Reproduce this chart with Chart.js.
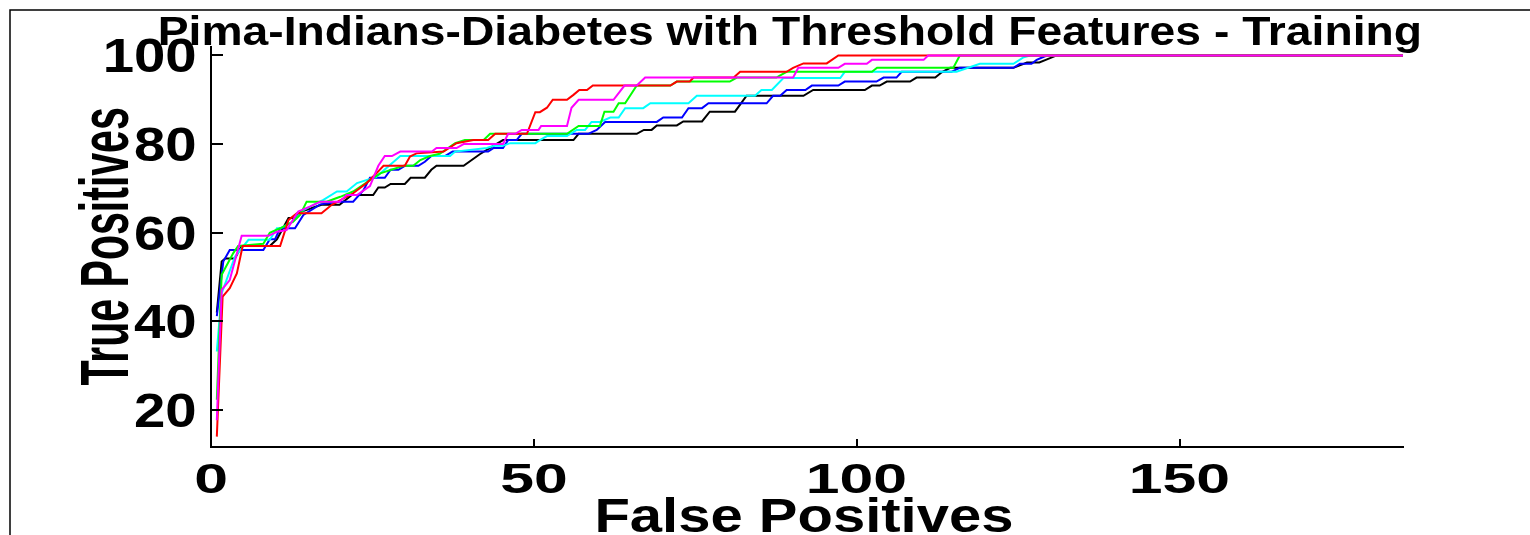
<!DOCTYPE html>
<html>
<head>
<meta charset="utf-8">
<title>Pima-Indians-Diabetes ROC</title>
<script src="https://cdn.jsdelivr.net/npm/chart.js@4/dist/chart.umd.min.js"></script>
<style>
  html, body { margin: 0; padding: 0; background: #fff; overflow: hidden; }
  #wrap { width: 1530px; height: 535px; position: relative; }
</style>
</head>
<body>
<div id="wrap"><canvas id="roc" width="1530" height="535"></canvas></div>
<script>
// ROC curves: false positives (x) vs true positives (y), one curve per run
const titleText = 'Pima-Indians-Diabetes with Threshold Features - Training';
const xTitle = 'False Positives';
const yTitle = 'True Positives';
const xTicks = [0, 50, 100, 150];
const yTicks = [20, 40, 60, 80, 100];

const redFP = [0.9,1.8,2.9,4.0,4.9,10.7,12.0,13.3,17.1,18.7,22.0,24.1,25.6,26.7,30.0,30.8,31.8,36.0,38.0,40.6,42.9,44.0,48.9,50.2,50.9,52.0,52.9,55.1,56.1,57.0,58.2,59.1,71.1,72.1,74.1,74.7,80.9,81.9,89.1,90.1,91.7,95.3,97.1,184.5];
const redTP = [14.0,45.6,47.5,50.8,57.0,57.0,62.9,64.4,64.4,66.3,68.9,71.2,73.4,75.1,75.1,77.2,77.9,78.3,80.2,80.9,80.9,82.3,82.3,87.2,87.2,88.2,90.0,90.0,91.1,92.2,92.2,93.2,93.2,94.1,94.1,95.0,95.0,96.3,96.3,97.2,98.2,98.2,100,100];

const greenFP = [0.9,1.65,3.45,4.2,8.1,9.1,10.7,12.7,13.8,14.8,17.9,20.0,22.0,25.1,26.2,29.8,31.3,32.4,33.9,35.4,37.8,39.3,42.2,43.2,55.1,56.9,60.2,60.9,62.3,63.1,64.1,65.9,71.1,72.1,74.1,80.3,81.4,87.5,89.1,102.3,103.1,114.9,115.9,184.5];
const greenTP = [22.3,50.5,55.4,57.0,57.5,60.0,61.0,62.5,64.0,67.0,67.0,68.1,69.3,72.3,73.4,75.1,75.1,76.4,77.3,77.8,80.2,80.9,80.9,82.3,82.3,84.1,84.1,87.3,87.3,89.2,89.2,93.2,93.2,94.1,94.1,94.1,95.0,95.0,96.3,96.3,97.2,97.2,100,100];

const blueFP = [0.9,1.9,2.9,8.1,9.1,9.9,10.7,13.0,14.3,16.9,19.9,22.0,23.6,24.6,26.9,27.8,29.0,30.0,32.1,33.1,34.1,36.2,37.4,42.9,43.7,45.2,46.0,47.3,48.1,58.4,59.7,61.0,69.0,70.0,72.9,73.9,76.0,77.0,86.0,87.0,88.1,89.1,92.0,93.0,97.1,98.1,103.0,104.1,106.1,106.9,114.6,115.9,124.2,125.2,127.0,127.8,128.9,129.5,184.5];
const blueTP = [41.2,53.5,56.1,56.1,58.5,58.5,61.0,61.0,64.0,66.4,67.0,67.0,69.6,72.4,72.4,74.2,74.2,75.1,75.1,76.0,77.3,77.3,78.3,78.3,79.1,79.1,80.9,80.9,82.3,82.3,83.2,85.0,85.0,86.0,86.0,88.1,88.1,89.2,89.2,90.9,90.9,92.2,92.2,93.2,93.2,94.1,94.1,95.0,95.0,96.3,96.3,97.2,97.2,98.1,98.1,99.0,99.7,100,100];

const cyanFP = [0.9,1.65,3.7,5.8,9.1,10.2,10.7,12.7,14.3,17.4,19.5,21.0,22.6,25.6,29.3,37.0,37.8,42.7,43.8,45.2,46.3,50.2,50.9,52.0,55.1,56.6,57.9,58.9,60.2,61.8,63.1,64.1,66.9,68.0,73.9,75.2,84.2,85.2,86.8,88.6,97.4,98.1,115.4,119.0,124.2,125.8,126.8,184.5];
const cyanTP = [33.2,46.3,54.6,58.4,58.4,61.0,61.0,62.5,65.1,67.4,69.3,69.3,71.2,72.6,77.3,77.3,78.3,79.1,79.6,79.6,80.2,80.2,80.9,81.8,81.8,83.2,83.2,85.0,85.0,86.0,86.0,88.1,88.1,89.2,89.2,90.9,90.9,92.2,92.2,94.9,94.9,96.3,96.3,98.1,98.1,99.6,100,100];

const magentaFP = [0.9,1.65,2.9,4.75,8.9,10.2,11.7,13.5,15.3,16.9,19.9,21.0,22.6,24.6,25.9,26.9,28.0,29.3,34.2,34.9,38.0,39.1,45.2,46.0,47.1,48.1,50.7,51.1,55.1,55.8,56.9,62.3,64.0,65.9,67.2,90.1,90.9,97.1,98.1,101.5,102.3,110.3,111.0,184.5];
const magentaTP = [17.7,47.1,49.3,59.3,59.3,60.2,60.6,64.8,65.9,67.0,67.0,68.5,68.5,70.5,75.1,77.3,77.3,78.3,78.3,79.1,79.1,80.0,80.0,82.3,82.3,83.2,83.2,84.1,84.1,88.2,90.0,90.0,93.2,93.2,95.0,95.0,97.2,97.2,98.1,98.1,99.0,99.0,100,100];

const blackFP = [0.9,1.65,2.2,3.7,4.75,9.1,10.2,12.0,13.0,14.0,17.1,19.9,21.8,25.1,25.9,26.9,27.8,30.0,30.9,33.1,34.1,34.9,39.1,41.6,43.7,45.2,56.1,56.9,65.9,67.0,68.2,69.0,72.1,73.1,76.0,77.2,81.1,82.9,91.7,93.2,101.2,102.3,103.5,104.6,108.2,109.2,112.1,113.1,114.4,124.2,126.3,128.2,129.4,130.9,184.5];
const blackTP = [42.0,53.5,54.2,54.2,57.0,57.0,58.5,63.3,63.3,64.8,66.3,66.3,68.5,68.5,70.2,70.2,71.0,71.0,72.4,72.4,74.2,75.1,75.1,77.7,79.6,80.9,80.9,82.3,82.3,83.2,83.2,84.2,84.2,85.1,85.1,87.3,87.3,90.9,90.9,92.2,92.2,93.2,93.2,94.1,94.1,95.0,95.0,96.2,97.2,97.2,98.4,98.4,99.1,100,100];

const toPoints = (xs, ys) => xs.map((v, i) => ({ x: v, y: ys[i] }));

// first dataset is painted last (on top)
const curves = [
  { fp: magentaFP, tp: magentaTP, color: '#ff00ff' },
  { fp: redFP,     tp: redTP,     color: '#ff0000' },
  { fp: greenFP,   tp: greenTP,   color: '#00ff00' },
  { fp: cyanFP,    tp: cyanTP,    color: '#00ffff' },
  { fp: blueFP,    tp: blueTP,    color: '#0000ff' },
  { fp: blackFP,   tp: blackTP,   color: '#000000' }
];

const FAMILY = '"Liberation Sans", Arial, Helvetica, sans-serif';

// bold text sized by cap height and stretched horizontally to a given ink width
function fontFor(capH) {
  return 'bold ' + (capH / 0.716).toFixed(1) + 'px ' + FAMILY;
}
function inkBox(ctx, text) {
  const m = ctx.measureText(text);
  return { l: m.actualBoundingBoxLeft, r: m.actualBoundingBoxRight,
           a: m.actualBoundingBoxAscent, d: m.actualBoundingBoxDescent };
}

const decorations = {
  id: 'decorations',
  afterDraw(chart) {
    const { ctx, chartArea: a, scales: { x, y } } = chart;
    ctx.save();
    ctx.strokeStyle = '#000';
    ctx.fillStyle = '#000';

    // frame along top and left of the figure
    ctx.lineWidth = 1.5;
    ctx.beginPath();
    ctx.moveTo(10, 535);
    ctx.lineTo(10, 10);
    ctx.lineTo(1530, 10);
    ctx.stroke();

    // inward tick marks
    ctx.lineWidth = 2;
    ctx.beginPath();
    y.ticks.forEach(t => {
      const p = Math.round(y.getPixelForValue(t.value));
      ctx.moveTo(a.left, p);
      ctx.lineTo(a.left + 12, p);
    });
    x.ticks.forEach(t => {
      const p = Math.round(x.getPixelForValue(t.value));
      ctx.moveTo(p, a.bottom);
      ctx.lineTo(p, a.bottom - 8);
    });
    ctx.stroke();

    ctx.textAlign = 'left';
    ctx.textBaseline = 'alphabetic';

    // y tick labels: right-aligned, centred on the tick
    ctx.font = fontFor(34);
    const yRef = inkBox(ctx, '100');
    const ySx = 90 / (yRef.l + yRef.r);
    y.ticks.forEach(t => {
      const s = String(t.value);
      const b = inkBox(ctx, s);
      const p = y.getPixelForValue(t.value);
      ctx.save();
      ctx.translate(195, p + (b.a - b.d) / 2);
      ctx.scale(ySx, 1);
      ctx.fillText(s, -b.r, 0);
      ctx.restore();
    });

    // x tick labels: centred under the tick
    ctx.font = fontFor(31);
    const xRef = inkBox(ctx, '100');
    const xSx = 97 / (xRef.l + xRef.r);
    x.ticks.forEach(t => {
      const s = String(t.value);
      const b = inkBox(ctx, s);
      const p = x.getPixelForValue(t.value);
      ctx.save();
      ctx.translate(p, 493);
      ctx.scale(xSx, 1);
      ctx.fillText(s, -(b.r - b.l) / 2, 0);
      ctx.restore();
    });

    // centred, stretched single-line text
    function stretched(text, cx, base, capH, width) {
      ctx.font = fontFor(capH);
      const b = inkBox(ctx, text);
      ctx.save();
      ctx.translate(cx, base);
      ctx.scale(width / (b.l + b.r), 1);
      ctx.fillText(text, -(b.r - b.l) / 2, 0);
      ctx.restore();
    }

    stretched(titleText, 790, 45, 29, 1260);
    stretched(xTitle, (a.left + a.right) / 2 - 2, 532, 35, 414);

    // y axis title: rotated, tall glyphs, short run length
    ctx.font = fontFor(30);
    const yb = inkBox(ctx, yTitle);
    ctx.save();
    ctx.translate(128, (a.top + a.bottom) / 2);
    ctx.rotate(-Math.PI / 2);
    ctx.scale(277 / (yb.l + yb.r), 49 / 30);
    ctx.fillText(yTitle, -(yb.r - yb.l) / 2, 0);
    ctx.restore();

    ctx.restore();
  }
};

new Chart(document.getElementById('roc'), {
  type: 'line',
  data: {
    datasets: curves.map(c => ({
      data: toPoints(c.fp, c.tp),
      borderColor: c.color,
      backgroundColor: c.color,
      borderWidth: 2,
      pointRadius: 0,
      fill: false,
      tension: 0
    }))
  },
  options: {
    responsive: false,
    animation: false,
    events: [],
    layout: { padding: { top: 47, right: 127, bottom: 0, left: 0 } },
    plugins: {
      legend: { display: false },
      title: { display: false },
      tooltip: { enabled: false }
    },
    scales: {
      x: {
        type: 'linear',
        min: 0,
        max: 184.5,
        afterBuildTicks: s => { s.ticks = xTicks.map(v => ({ value: v })); },
        afterFit: s => { s.height = 88; },
        grid: { display: true, drawOnChartArea: false, drawTicks: false },
        border: { display: true, color: '#000', width: 2 },
        ticks: { display: false }
      },
      y: {
        type: 'linear',
        min: 11.65,
        max: 101.9,
        afterBuildTicks: s => { s.ticks = yTicks.map(v => ({ value: v })); },
        afterFit: s => { s.width = 211; },
        grid: { display: true, drawOnChartArea: false, drawTicks: false },
        border: { display: true, color: '#000', width: 2 },
        ticks: { display: false }
      }
    }
  },
  plugins: [decorations]
});
</script>
</body>
</html>
